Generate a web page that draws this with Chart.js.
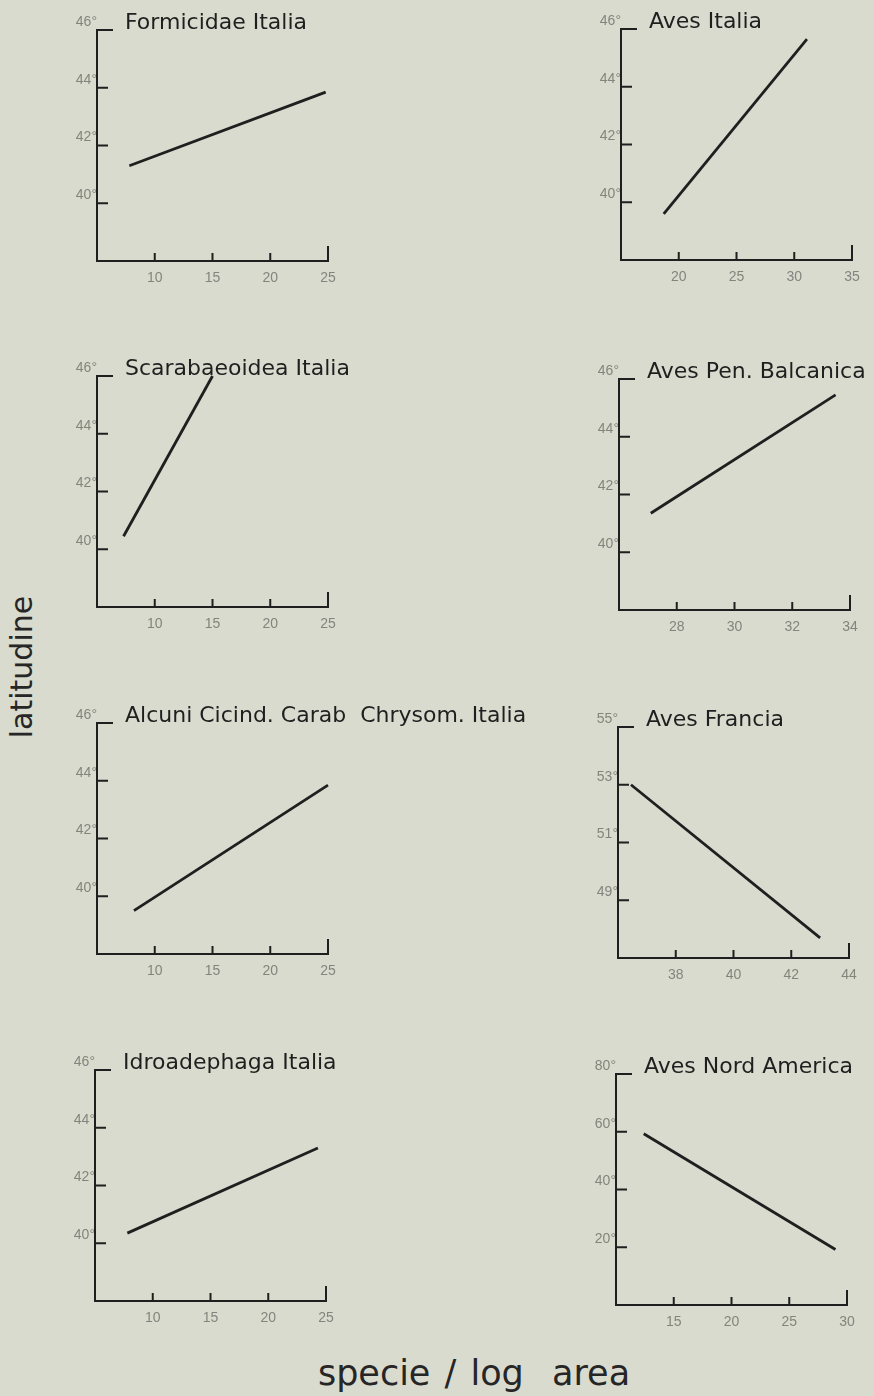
<!DOCTYPE html>
<html>
<head>
<meta charset="utf-8">
<title>Latitudine e specie / log area</title>
<script src="https://cdn.jsdelivr.net/npm/chart.js@4.4.1/dist/chart.umd.min.js"></script>
<style>
  html, body { margin: 0; padding: 0; background: #dadbcf; }
  #sheet { position: relative; width: 874px; height: 1396px; overflow: hidden; background: #dadbcf; }
  #sheet canvas { position: absolute; }
  .axis-title { position: absolute; font-family: "DejaVu Sans", sans-serif; color: #262626; white-space: pre; line-height: 1; }
  #ylab { left: 22px; top: 667px; font-size: 30px; transform: translate(-50%, -50%) rotate(-90deg); }
  #xlab { left: 224px; width: 500px; top: 1356px; font-size: 35px; word-spacing: 3px; text-align: center; }
</style>
</head>
<body>
<div id="sheet">
  <div class="axis-title" id="ylab">latitudine</div>
  <div class="axis-title" id="xlab">specie / log  area</div>
</div>
<script>
// Regression lines: latitude against species / log area, one panel per group
const panelTitles = [
  'Formicidae Italia',
  'Aves Italia',
  'Scarabaeoidea Italia',
  'Aves Pen. Balcanica',
  'Alcuni Cicind. Carab  Chrysom. Italia',
  'Aves Francia',
  'Idroadephaga Italia',
  'Aves Nord America'
];

// line end points (species / log area, latitude in degrees)
const xStart   = [7.8, 18.7, 7.3, 27.1, 8.2, 36.45, 7.8, 12.4];
const xEnd     = [24.8, 31.1, 15.0, 33.5, 25.0, 43.0, 24.3, 29.0];
const latStart = [41.3, 39.6, 40.45, 41.35, 39.5, 53.0, 40.35, 59.3];
const latEnd   = [43.85, 45.65, 46.0, 45.45, 43.85, 47.7, 43.3, 19.2];

// axis ranges and tick labels
const xAxisMin = [5, 15, 5, 26, 5, 36, 5, 10];
const yAxisMin = [38, 38, 38, 38, 38, 47, 38, 0];
const xTickLabels = [
  [10, 15, 20, 25], [20, 25, 30, 35], [10, 15, 20, 25], [28, 30, 32, 34],
  [10, 15, 20, 25], [38, 40, 42, 44], [10, 15, 20, 25], [15, 20, 25, 30]
];
const yTickLabels = [
  [40, 42, 44, 46], [40, 42, 44, 46], [40, 42, 44, 46], [40, 42, 44, 46],
  [40, 42, 44, 46], [49, 51, 53, 55], [40, 42, 44, 46], [20, 40, 60, 80]
];

// placement of each plot frame on the sheet (top-left corner of the plot area)
const frameLeft = [97, 621, 97, 619, 97, 618, 95, 616];
const frameTop  = [30, 29, 376, 379, 723, 727, 1070, 1074];
const FRAME = 231;     // plot area side
const YAXIS_W = 44;    // room for latitude labels
const XAXIS_H = 30;    // room for x labels
const HEAD = 40;       // room for panel heading
const SHEET_W = 874;

const ink = '#1f1f1f';
const tickInk = '#84847e';

// draws the L-shaped frame, inward tick marks and the panel heading
const plotFrame = {
  id: 'plotFrame',
  afterDatasetsDraw(chart, args, opts) {
    const { ctx, chartArea: a, scales: { x, y } } = chart;
    ctx.save();
    ctx.strokeStyle = ink;
    ctx.lineWidth = 2;
    ctx.beginPath();
    ctx.moveTo(a.left, a.top - 1);
    ctx.lineTo(a.left, a.bottom);
    ctx.lineTo(a.right + 1, a.bottom);
    x.ticks.forEach((t, k) => {
      const px = x.getPixelForValue(t.value);
      ctx.moveTo(px, a.bottom);
      ctx.lineTo(px, a.bottom - (k === x.ticks.length - 1 ? 15 : 8));
    });
    y.ticks.forEach((t, k) => {
      const py = y.getPixelForValue(t.value);
      ctx.moveTo(a.left, py);
      ctx.lineTo(a.left + (k === y.ticks.length - 1 ? 16 : 11), py);
    });
    ctx.stroke();
    ctx.fillStyle = ink;
    ctx.font = '22px "DejaVu Sans"';
    ctx.textAlign = 'left';
    ctx.textBaseline = 'alphabetic';
    ctx.fillText(opts.title, a.left + 28, a.top - 1);
    ctx.restore();
  }
};

const sheet = document.getElementById('sheet');

panelTitles.forEach((title, i) => {
  const left = frameLeft[i] - YAXIS_W;
  const top = frameTop[i] - HEAD;
  const width = (i % 2 === 0) ? 480 : SHEET_W - left;
  const height = HEAD + FRAME + XAXIS_H;

  const canvas = document.createElement('canvas');
  canvas.width = width;
  canvas.height = height;
  canvas.style.left = left + 'px';
  canvas.style.top = top + 'px';
  sheet.appendChild(canvas);

  new Chart(canvas, {
    type: 'scatter',
    data: {
      datasets: [{
        data: [{ x: xStart[i], y: latStart[i] }, { x: xEnd[i], y: latEnd[i] }],
        showLine: true,
        borderColor: ink,
        borderWidth: 2.8,
        pointRadius: 0,
        clip: false
      }]
    },
    options: {
      responsive: false,
      animation: false,
      layout: { padding: { top: HEAD, left: 0, right: width - YAXIS_W - FRAME, bottom: 0 } },
      plugins: {
        legend: { display: false },
        tooltip: { enabled: false },
        plotFrame: { title }
      },
      scales: {
        x: {
          type: 'linear',
          min: xAxisMin[i],
          max: xTickLabels[i][xTickLabels[i].length - 1],
          grid: { display: false, drawTicks: false },
          border: { display: false },
          afterBuildTicks: s => { s.ticks = xTickLabels[i].map(v => ({ value: v })); },
          afterFit: s => { s.height = XAXIS_H; },
          ticks: {
            autoSkip: false, maxRotation: 0, padding: 9, color: tickInk,
            font: { family: '"Liberation Sans", sans-serif', size: 14 }
          }
        },
        y: {
          type: 'linear',
          min: yAxisMin[i],
          max: yTickLabels[i][yTickLabels[i].length - 1],
          grid: { display: false, drawTicks: false },
          border: { display: false },
          afterBuildTicks: s => { s.ticks = yTickLabels[i].map(v => ({ value: v })); },
          afterFit: s => { s.width = YAXIS_W; },
          ticks: {
            autoSkip: false, padding: 0, labelOffset: -8, color: tickInk,
            font: { family: '"Liberation Sans", sans-serif', size: 14 },
            callback: v => v + '°'
          }
        }
      }
    },
    plugins: [plotFrame]
  });
});
</script>
</body>
</html>
